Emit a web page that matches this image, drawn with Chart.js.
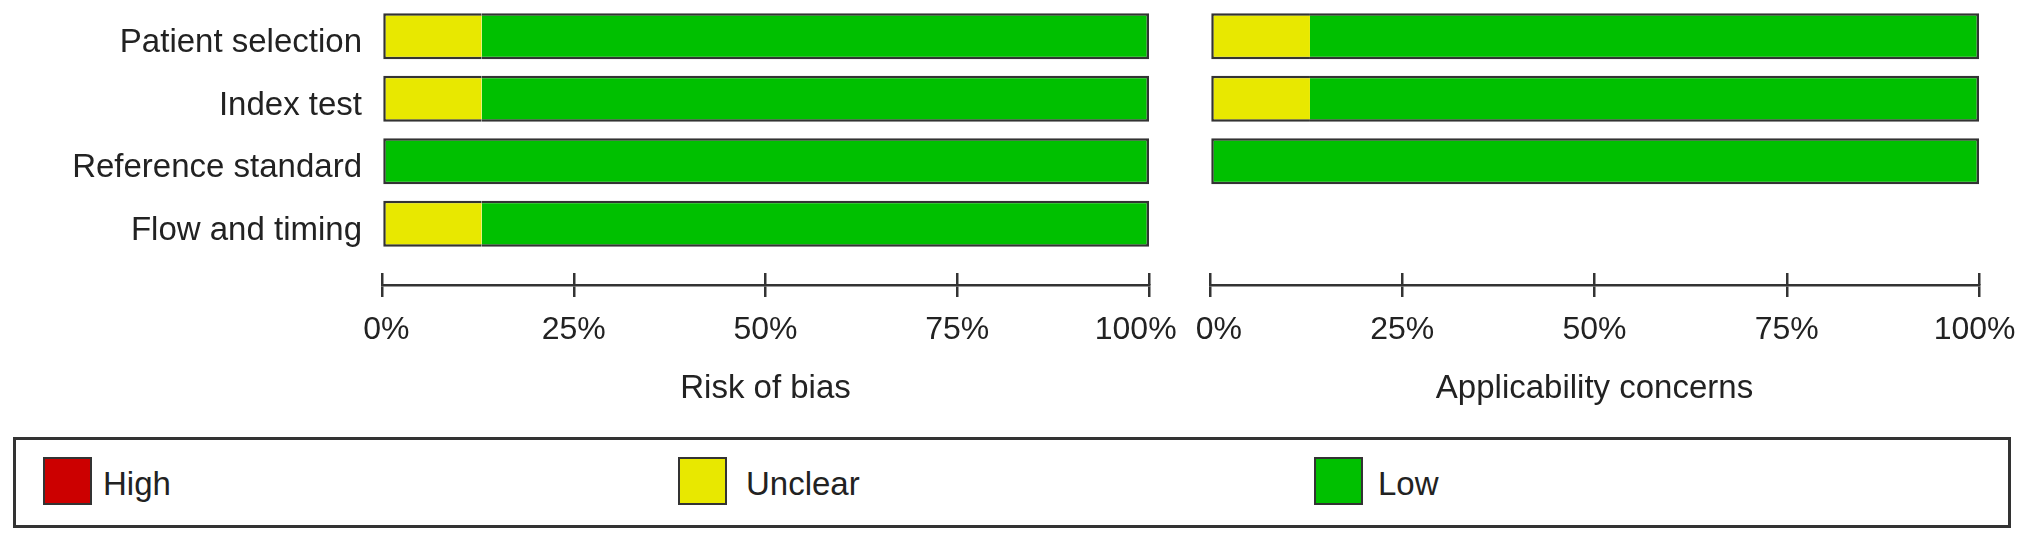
<!DOCTYPE html>
<html>
<head>
<meta charset="utf-8">
<script src="https://cdn.jsdelivr.net/npm/chart.js@4.4.0/dist/chart.umd.min.js"></script>
<style>
html,body{margin:0;padding:0;background:#fff;}
body{width:2032px;height:543px;position:relative;overflow:hidden;font-family:"Liberation Sans",Arial,Helvetica,sans-serif;color:#222;}
canvas{position:absolute;top:0;}
#left{left:0;}
#right{left:1165px;}
#legend{position:absolute;left:13px;top:437px;width:1998px;height:91px;box-sizing:border-box;border:3px solid #333;}
.sw{position:absolute;width:49px;height:48px;box-sizing:border-box;border:2px solid #333;top:17px;}
.lt{position:absolute;font-size:33px;line-height:38px;top:25px;white-space:nowrap;color:#222;}
</style>
</head>
<body>
<canvas id="left" width="1195" height="420"></canvas>
<canvas id="right" width="867" height="420"></canvas>
<div id="legend"></div>
<script>
// ---- data ----
const categories = ['Patient selection', 'Index test', 'Reference standard', 'Flow and timing'];
const tickValues = [0, 25, 50, 75, 100];
const riskHigh = [0, 0, 0, 0];
const riskUnclear = [13, 13, 0, 13];
const riskLow = [87, 87, 100, 87];
const applicHigh = [0, 0, 0];
const applicUnclear = [13, 13, 0];
const applicLow = [87, 87, 100];
const legendLabels = ['High', 'Unclear', 'Low'];
const legendColors = ['#cc0000', '#e8e800', '#00c000'];

const FONT = '"Liberation Sans", Arial, Helvetica, sans-serif';
const TEXT = '#222';
const LINE = '#333';
const B = 2.5;

function makeDatasets(high, unclear, low) {
  const toPts = arr => arr.map((v, i) => ({ x: v, y: i }));
  return [
    { label: legendLabels[0], data: toPts(high), backgroundColor: legendColors[0], borderColor: LINE, xAxisID: 'x', yAxisID: 'y',
      borderWidth: ctx => high[ctx.dataIndex] > 0 ? { top: B, bottom: B, left: B, right: 0 } : 0 },
    { label: legendLabels[1], data: toPts(unclear), backgroundColor: legendColors[1], borderColor: LINE, xAxisID: 'x', yAxisID: 'y',
      borderWidth: ctx => unclear[ctx.dataIndex] > 0 ? { top: B, bottom: B, left: high[ctx.dataIndex] > 0 ? 0 : B, right: 0 } : 0 },
    { label: legendLabels[2], data: toPts(low), backgroundColor: legendColors[2], borderColor: LINE, xAxisID: 'x', yAxisID: 'y',
      borderWidth: ctx => ({ top: B, bottom: B, right: B, left: (high[ctx.dataIndex] + unclear[ctx.dataIndex]) > 0 ? 0 : B }) }
  ];
}

// lead/trail: number of spaces used to nudge the first / last tick label inward
function makeOptions(title, showLabels, padding, lead, trail) {
  return {
    indexAxis: 'y',
    responsive: false,
    animation: false,
    devicePixelRatio: 1,
    layout: { padding },
    datasets: { bar: { grouped: false, categoryPercentage: 1, barPercentage: 0.736, borderSkipped: false } },
    plugins: { legend: { display: false }, tooltip: { enabled: false } },
    scales: {
      x: {
        type: 'linear', axis: 'x', position: 'bottom', weight: 1, min: 0, max: 100, stacked: true,
        afterBuildTicks: s => { s.ticks = tickValues.map(v => ({ value: v })); },
        afterFit: s => { s.paddingLeft = 0; s.paddingRight = 0; },
        ticks: {
          callback: (v, i, t) => {
            const s = v + '%';
            if (i === 0) return ' '.repeat(lead) + s;
            if (i === t.length - 1) return s + ' '.repeat(trail);
            return s;
          },
          font: { size: 32, family: FONT }, color: TEXT, padding: 14, maxRotation: 0, autoSkip: false
        },
        grid: { drawOnChartArea: false, drawTicks: true, tickLength: 12, color: LINE, lineWidth: 2.5 },
        border: { display: true, color: LINE, width: 2.5 },
        title: { display: true, text: title, font: { size: 33, family: FONT }, color: TEXT, padding: { top: 6, bottom: 4 } }
      },
      xt: {
        type: 'linear', axis: 'x', position: 'bottom', weight: 0, min: 0, max: 100,
        afterBuildTicks: s => { s.ticks = tickValues.map(v => ({ value: v })); },
        afterFit: s => { s.paddingLeft = 0; s.paddingRight = 0; },
        ticks: { display: false },
        grid: { drawOnChartArea: false, drawTicks: true, tickLength: 12, color: LINE, lineWidth: 2.5 },
        border: { display: false }
      },
      y: {
        type: 'linear', axis: 'y', reverse: true, offset: false, min: -0.5, max: 3.788, display: showLabels,
        afterBuildTicks: s => { s.ticks = categories.map((c, i) => ({ value: i })); },
        afterFit: s => { if (showLabels) s.width = 382; s.paddingTop = 0; s.paddingBottom = 0; },
        ticks: { callback: v => categories[v], font: { size: 33, family: FONT }, color: TEXT, padding: 20, autoSkip: false, labelOffset: 7 },
        grid: { display: false, drawTicks: false },
        border: { display: false }
      }
    }
  };
}

new Chart(document.getElementById('left'), {
  type: 'bar',
  data: { datasets: makeDatasets(riskHigh, riskUnclear, riskLow) },
  options: makeOptions('Risk of bias', true, { top: 5, bottom: 7, left: 0, right: 46 }, 1, 3)
});

new Chart(document.getElementById('right'), {
  type: 'bar',
  data: { datasets: makeDatasets(applicHigh, applicUnclear, applicLow) },
  options: makeOptions('Applicability concerns', false, { top: 5, bottom: 7, left: 45, right: 53 }, 2, 1)
});

// legend
const legend = document.getElementById('legend');
const swatchLeft = [27, 662, 1298];
const textLeft = [87, 730, 1362];
legendLabels.forEach((lab, i) => {
  const sw = document.createElement('div');
  sw.className = 'sw';
  sw.style.left = swatchLeft[i] + 'px';
  sw.style.background = legendColors[i];
  legend.appendChild(sw);
  const t = document.createElement('span');
  t.className = 'lt';
  t.style.left = textLeft[i] + 'px';
  t.textContent = lab;
  legend.appendChild(t);
});
</script>
</body>
</html>
